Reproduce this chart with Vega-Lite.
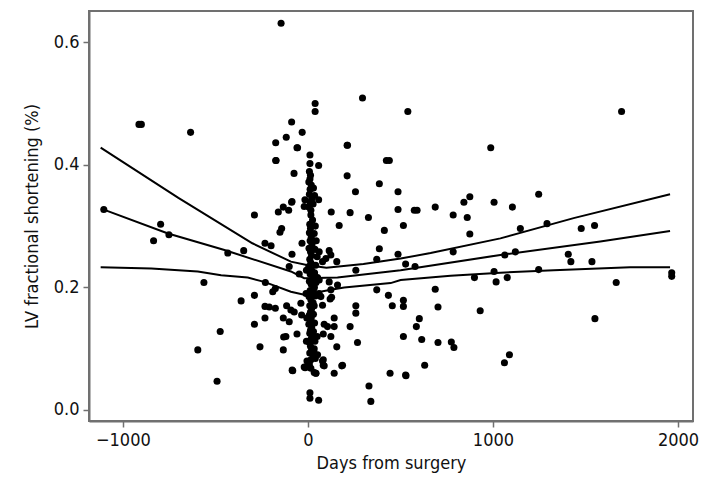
{
  "$schema": "https://vega.github.io/schema/vega-lite/v6.json",
  "autosize": {"type": "none"},
  "width": 604,
  "height": 410,
  "padding": {"left": 89, "top": 11, "right": 27, "bottom": 64},
  "background": "white",
  "config": {
    "font": "DejaVu Sans Condensed, sans-serif",
    "view": {"stroke": "#707070", "strokeWidth": 2},
    "axis": {
      "grid": false,
      "domainColor": "#707070",
      "domainWidth": 2,
      "tickColor": "#707070",
      "tickWidth": 1.5,
      "tickSize": 6,
      "labelFont": "DejaVu Sans Condensed, sans-serif",
      "labelFontSize": 18,
      "labelColor": "#111",
      "titleFont": "DejaVu Sans Condensed, sans-serif",
      "titleFontSize": 18,
      "titleFontWeight": "normal",
      "titleColor": "#111"
    }
  },
  "datasets": {
    "pts": [
      {"day": -145, "fs": 0.631}, {"day": -913, "fs": 0.466}, {"day": -900, "fs": 0.466}, {"day": -634, "fs": 0.453},
      {"day": 39, "fs": 0.5}, {"day": 39, "fs": 0.487}, {"day": 295, "fs": 0.509}, {"day": 540, "fs": 0.487},
      {"day": -88, "fs": 0.47}, {"day": -117, "fs": 0.445}, {"day": -31, "fs": 0.453}, {"day": -174, "fs": 0.436},
      {"day": -59, "fs": 0.428}, {"day": -174, "fs": 0.407}, {"day": 212, "fs": 0.432}, {"day": 58, "fs": 0.399},
      {"day": -75, "fs": 0.386}, {"day": 424, "fs": 0.407}, {"day": 440, "fs": 0.407}, {"day": 212, "fs": 0.382},
      {"day": 386, "fs": 0.369}, {"day": 257, "fs": 0.356}, {"day": 487, "fs": 0.356}, {"day": 487, "fs": 0.327},
      {"day": -88, "fs": 0.339}, {"day": -16, "fs": 0.343}, {"day": 58, "fs": 0.343}, {"day": -133, "fs": 0.331},
      {"day": -104, "fs": 0.326}, {"day": -160, "fs": 0.323}, {"day": -289, "fs": 0.318}, {"day": 126, "fs": 0.323},
      {"day": 228, "fs": 0.322}, {"day": 327, "fs": 0.314}, {"day": -1103, "fs": 0.327}, {"day": 1695, "fs": 0.487},
      {"day": 988, "fs": 0.428}, {"day": 1247, "fs": 0.352}, {"day": 875, "fs": 0.348}, {"day": 843, "fs": 0.339},
      {"day": 1006, "fs": 0.339}, {"day": 1105, "fs": 0.331}, {"day": 688, "fs": 0.331}, {"day": 575, "fs": 0.326},
      {"day": 590, "fs": 0.326}, {"day": 785, "fs": 0.318}, {"day": 861, "fs": 0.314}, {"day": 516, "fs": 0.301},
      {"day": 875, "fs": 0.287}, {"day": 1148, "fs": 0.296}, {"day": 1292, "fs": 0.304}, {"day": 1477, "fs": 0.296},
      {"day": 1549, "fs": 0.301}, {"day": 785, "fs": 0.258}, {"day": 1064, "fs": 0.253}, {"day": 1121, "fs": 0.258},
      {"day": 1407, "fs": 0.254}, {"day": 1421, "fs": 0.242}, {"day": 1535, "fs": 0.242}, {"day": 528, "fs": 0.238},
      {"day": 579, "fs": 0.234}, {"day": 1247, "fs": 0.229}, {"day": 1006, "fs": 0.226}, {"day": 1017, "fs": 0.209},
      {"day": 1077, "fs": 0.216}, {"day": 900, "fs": 0.216}, {"day": 1666, "fs": 0.208}, {"day": 1966, "fs": 0.224},
      {"day": 1966, "fs": 0.218}, {"day": 688, "fs": 0.197}, {"day": 516, "fs": 0.179}, {"day": 516, "fs": 0.169},
      {"day": 703, "fs": 0.168}, {"day": 931, "fs": 0.162}, {"day": 1551, "fs": 0.149}, {"day": 602, "fs": 0.149},
      {"day": 586, "fs": 0.136}, {"day": 516, "fs": 0.12}, {"day": 615, "fs": 0.115}, {"day": 703, "fs": 0.11},
      {"day": 775, "fs": 0.111}, {"day": 789, "fs": 0.102}, {"day": 1089, "fs": 0.09}, {"day": 1062, "fs": 0.077},
      {"day": 631, "fs": 0.073}, {"day": 530, "fs": 0.056}, {"day": -796, "fs": 0.303}, {"day": -751, "fs": 0.286},
      {"day": -834, "fs": 0.276}, {"day": -433, "fs": 0.256}, {"day": -347, "fs": 0.26}, {"day": -151, "fs": 0.29},
      {"day": -142, "fs": 0.296}, {"day": -232, "fs": 0.272}, {"day": -199, "fs": 0.268}, {"day": -32, "fs": 0.272},
      {"day": -86, "fs": 0.254}, {"day": -101, "fs": 0.234}, {"day": 169, "fs": 0.301}, {"day": 413, "fs": 0.293},
      {"day": 386, "fs": 0.263}, {"day": 372, "fs": 0.246}, {"day": 487, "fs": 0.254}, {"day": 115, "fs": 0.26},
      {"day": 124, "fs": 0.253}, {"day": 61, "fs": 0.258}, {"day": 79, "fs": 0.242}, {"day": 97, "fs": 0.247},
      {"day": 156, "fs": 0.242}, {"day": 259, "fs": 0.228}, {"day": -47, "fs": 0.222}, {"day": 52, "fs": 0.216},
      {"day": 61, "fs": 0.212}, {"day": 115, "fs": 0.209}, {"day": 160, "fs": 0.204}, {"day": 124, "fs": 0.196},
      {"day": -230, "fs": 0.208}, {"day": -176, "fs": 0.198}, {"day": -190, "fs": 0.193}, {"day": -562, "fs": 0.208},
      {"day": -289, "fs": 0.187}, {"day": -361, "fs": 0.178}, {"day": -232, "fs": 0.169}, {"day": -209, "fs": 0.168},
      {"day": -176, "fs": 0.166}, {"day": -115, "fs": 0.17}, {"day": -92, "fs": 0.163}, {"day": -74, "fs": 0.16},
      {"day": -34, "fs": 0.155}, {"day": -38, "fs": 0.174}, {"day": 79, "fs": 0.171}, {"day": 120, "fs": 0.181},
      {"day": 70, "fs": 0.185}, {"day": 259, "fs": 0.17}, {"day": 259, "fs": 0.158}, {"day": 128, "fs": 0.184},
      {"day": -232, "fs": 0.15}, {"day": -133, "fs": 0.15}, {"day": -101, "fs": 0.144}, {"day": -289, "fs": 0.14},
      {"day": 142, "fs": 0.15}, {"day": 88, "fs": 0.14}, {"day": 106, "fs": 0.136}, {"day": 142, "fs": 0.136},
      {"day": 228, "fs": 0.136}, {"day": 372, "fs": 0.196}, {"day": 435, "fs": 0.187}, {"day": 456, "fs": 0.17},
      {"day": -474, "fs": 0.128}, {"day": -595, "fs": 0.098}, {"day": -491, "fs": 0.047}, {"day": -59, "fs": 0.124},
      {"day": -119, "fs": 0.12}, {"day": -131, "fs": 0.119}, {"day": -259, "fs": 0.103}, {"day": -133, "fs": 0.098},
      {"day": 83, "fs": 0.124}, {"day": 124, "fs": 0.12}, {"day": 156, "fs": 0.103}, {"day": 268, "fs": 0.11},
      {"day": -85, "fs": 0.065}, {"day": -15, "fs": 0.069}, {"day": 43, "fs": 0.06}, {"day": 83, "fs": 0.082},
      {"day": 83, "fs": 0.073}, {"day": 142, "fs": 0.06}, {"day": 187, "fs": 0.073}, {"day": 330, "fs": 0.039},
      {"day": 340, "fs": 0.014}, {"day": 444, "fs": 0.06}, {"day": 528, "fs": 0.057}, {"day": -56, "fs": 0.428},
      {"day": -172, "fs": 0.407}, {"day": 214, "fs": 0.432}, {"day": -86, "fs": 0.34}, {"day": -20, "fs": 0.332},
      {"day": -82, "fs": 0.064}, {"day": 32, "fs": 0.095}, {"day": -20, "fs": 0.07}, {"day": 7, "fs": 0.07},
      {"day": 34, "fs": 0.061}, {"day": 79, "fs": 0.08}, {"day": 88, "fs": 0.072}, {"day": 183, "fs": 0.072},
      {"day": 11, "fs": 0.416}, {"day": 11, "fs": 0.402}, {"day": 8, "fs": 0.389}, {"day": 14, "fs": 0.383},
      {"day": 11, "fs": 0.377}, {"day": 5, "fs": 0.372}, {"day": 18, "fs": 0.367}, {"day": 12, "fs": 0.36},
      {"day": 8, "fs": 0.352}, {"day": 20, "fs": 0.344}, {"day": 12, "fs": 0.338}, {"day": 5, "fs": 0.331},
      {"day": 16, "fs": 0.326}, {"day": 16, "fs": 0.318}, {"day": 25, "fs": 0.31}, {"day": 10, "fs": 0.303},
      {"day": 14, "fs": 0.296}, {"day": 8, "fs": 0.289}, {"day": 18, "fs": 0.282}, {"day": 12, "fs": 0.276},
      {"day": 22, "fs": 0.27}, {"day": 6, "fs": 0.264}, {"day": 14, "fs": 0.258}, {"day": 20, "fs": 0.252},
      {"day": 10, "fs": 0.246}, {"day": 16, "fs": 0.24}, {"day": 5, "fs": 0.234}, {"day": 20, "fs": 0.228},
      {"day": 12, "fs": 0.222}, {"day": 28, "fs": 0.216}, {"day": 8, "fs": 0.21}, {"day": 18, "fs": 0.205},
      {"day": 35, "fs": 0.2}, {"day": 12, "fs": 0.195}, {"day": 22, "fs": 0.19}, {"day": 6, "fs": 0.185},
      {"day": 16, "fs": 0.18}, {"day": 28, "fs": 0.175}, {"day": 10, "fs": 0.17}, {"day": 20, "fs": 0.165},
      {"day": 14, "fs": 0.16}, {"day": 8, "fs": 0.155}, {"day": 18, "fs": 0.15}, {"day": 12, "fs": 0.145},
      {"day": 5, "fs": 0.14}, {"day": 20, "fs": 0.135}, {"day": 14, "fs": 0.13}, {"day": 10, "fs": 0.125},
      {"day": 22, "fs": 0.12}, {"day": 16, "fs": 0.115}, {"day": 8, "fs": 0.11}, {"day": 14, "fs": 0.104},
      {"day": 20, "fs": 0.098}, {"day": 10, "fs": 0.093}, {"day": 28, "fs": 0.088}, {"day": 16, "fs": 0.082},
      {"day": 8, "fs": 0.075}, {"day": 16, "fs": 0.068}, {"day": 43, "fs": 0.06}, {"day": 11, "fs": 0.028},
      {"day": 11, "fs": 0.019}, {"day": 58, "fs": 0.016},
      {"day": 30, "fs": 0.362}, {"day": 36, "fs": 0.35}, {"day": 28, "fs": 0.336}, {"day": 40, "fs": 0.3},
      {"day": 34, "fs": 0.288}, {"day": 45, "fs": 0.276}, {"day": 38, "fs": 0.262}, {"day": 50, "fs": 0.25},
      {"day": 42, "fs": 0.236}, {"day": 36, "fs": 0.224}, {"day": 44, "fs": 0.208}, {"day": 30, "fs": 0.196},
      {"day": 40, "fs": 0.186}, {"day": 34, "fs": 0.17}, {"day": 30, "fs": 0.156}, {"day": 36, "fs": 0.142},
      {"day": 30, "fs": 0.128}, {"day": 38, "fs": 0.112}, {"day": 34, "fs": 0.1}, {"day": 40, "fs": 0.084},
      {"day": -8, "fs": 0.228}, {"day": -10, "fs": 0.19}, {"day": -6, "fs": 0.15}, {"day": -8, "fs": 0.112},
      {"day": -5, "fs": 0.08}, {"day": 50, "fs": 0.12}, {"day": 52, "fs": 0.09}, {"day": 60, "fs": 0.19}
    ],
    "lines": [
      {"series": "upper", "day": -1120, "fs": 0.428}, {"series": "upper", "day": -700, "fs": 0.346},
      {"series": "upper", "day": -300, "fs": 0.272}, {"series": "upper", "day": -92, "fs": 0.242},
      {"series": "upper", "day": 0, "fs": 0.236}, {"series": "upper", "day": 100, "fs": 0.232},
      {"series": "upper", "day": 300, "fs": 0.238}, {"series": "upper", "day": 501, "fs": 0.247},
      {"series": "upper", "day": 663, "fs": 0.256}, {"series": "upper", "day": 1040, "fs": 0.28},
      {"series": "upper", "day": 1436, "fs": 0.313}, {"series": "upper", "day": 1957, "fs": 0.352},
      {"series": "middle", "day": -1103, "fs": 0.327}, {"series": "middle", "day": -756, "fs": 0.288},
      {"series": "middle", "day": -451, "fs": 0.261}, {"series": "middle", "day": -92, "fs": 0.226},
      {"series": "middle", "day": -20, "fs": 0.215}, {"series": "middle", "day": 160, "fs": 0.216},
      {"series": "middle", "day": 501, "fs": 0.228}, {"series": "middle", "day": 1040, "fs": 0.253},
      {"series": "middle", "day": 1580, "fs": 0.275}, {"series": "middle", "day": 1957, "fs": 0.292},
      {"series": "lower", "day": -1120, "fs": 0.233}, {"series": "lower", "day": -846, "fs": 0.231},
      {"series": "lower", "day": -595, "fs": 0.226}, {"series": "lower", "day": -469, "fs": 0.22},
      {"series": "lower", "day": -325, "fs": 0.216}, {"series": "lower", "day": -236, "fs": 0.209},
      {"series": "lower", "day": -92, "fs": 0.193}, {"series": "lower", "day": -20, "fs": 0.188},
      {"series": "lower", "day": 124, "fs": 0.196}, {"series": "lower", "day": 196, "fs": 0.2},
      {"series": "lower", "day": 447, "fs": 0.207}, {"series": "lower", "day": 501, "fs": 0.212},
      {"series": "lower", "day": 771, "fs": 0.219}, {"series": "lower", "day": 1040, "fs": 0.224},
      {"series": "lower", "day": 1328, "fs": 0.228}, {"series": "lower", "day": 1741, "fs": 0.233},
      {"series": "lower", "day": 1957, "fs": 0.233}
    ]
  },
  "encoding": {
    "x": {
      "field": "day", "type": "quantitative",
      "scale": {"domain": [-1183, 2081], "nice": false, "zero": false},
      "axis": {"values": [-1000, 0, 1000, 2000], "format": "d", "title": "Days from surgery", "labelPadding": 4, "titlePadding": 5}
    },
    "y": {
      "field": "fs", "type": "quantitative",
      "scale": {"domain": [-0.018, 0.651], "nice": false, "zero": false},
      "axis": {"values": [0, 0.2, 0.4, 0.6], "format": ".1f", "title": "LV fractional shortening (%)", "labelPadding": 4, "titlePadding": 12}
    }
  },
  "layer": [
    {
      "data": {"name": "pts"},
      "mark": {"type": "circle", "size": 50, "color": "black", "opacity": 1}
    },
    {
      "data": {"name": "lines"},
      "mark": {"type": "line", "color": "black", "strokeWidth": 2},
      "encoding": {"detail": {"field": "series"}}
    }
  ]
}
